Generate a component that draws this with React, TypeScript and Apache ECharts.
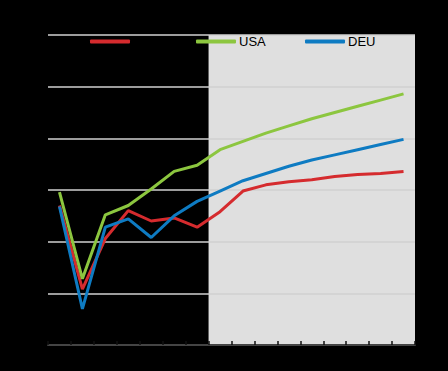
import React, { useEffect, useRef } from "react";
import * as echarts from "echarts";

const years = ["2019","2020","2021","2022","2023","2024","2025","2026","2027","2028","2029","2030","2031","2032","2033","2034"];
const seriesNames = ["FRA", "USA", "DEU"];
const fraValues = [98.5, 90.4, 95.3, 98.0, 97.0, 97.3, 96.4, 97.9, 99.9, 100.5, 100.8, 101.0, 101.3, 101.5, 101.6, 101.8];
const usaValues = [99.8, 91.4, 97.6, 98.5, 100.1, 101.8, 102.4, 103.9, 104.7, 105.5, 106.2, 106.9, 107.5, 108.1, 108.7, 109.3];
const deuValues = [98.4, 88.5, 96.4, 97.2, 95.4, 97.5, 98.9, 99.9, 100.9, 101.6, 102.3, 102.9, 103.4, 103.9, 104.4, 104.9];
const projectionStart = 7; // first projected year index (2026)
const yMin = 85;
const yMax = 115;
const yStep = 5;

const colors = ["#d52b2e", "#8cc63f", "#0e7bc2"];

export default function App() {
  const ref = useRef<HTMLDivElement>(null);
  useEffect(() => {
    if (!ref.current) return;
    const chart = echarts.init(ref.current, null, { renderer: "svg" });
    const values = [fraValues, usaValues, deuValues];
    const legendLeft = [85, 191, 300];
    chart.setOption({
      animation: false,
      backgroundColor: "#000000",
      grid: { left: 48, right: 33, top: 35, bottom: 26, containLabel: false },
      legend: seriesNames.map((n, i) => ({
        data: [n],
        left: legendLeft[i],
        top: 30,
        icon: "roundRect",
        itemWidth: 40,
        itemHeight: 4,
        itemGap: 0,
        textStyle: { color: "#000000", fontSize: 13, fontFamily: "Liberation Sans, Arial, sans-serif", padding: [0, 0, 0, -2] },
        selectedMode: false,
      })),
      xAxis: [
        {
          type: "category",
          data: years,
          boundaryGap: true,
          axisLine: { show: true, lineStyle: { color: "#444444", width: 2 } },
          axisTick: { show: true, inside: true, length: 4, lineStyle: { color: "#111111", width: 1.5 } },
          axisLabel: { color: "#000000", fontSize: 7, interval: 0, margin: 3, formatter: (v: string) => v.slice(2) },
          splitLine: { show: false },
        },
        {
          type: "value",
          min: 0,
          max: years.length,
          show: false,
          splitLine: { show: false },
        },
      ],
      yAxis: {
        type: "value",
        min: yMin,
        max: yMax,
        interval: yStep,
        axisLine: { show: false },
        axisTick: { show: false },
        axisLabel: { color: "#000000", fontSize: 11 },
        splitLine: { show: true, lineStyle: { color: "#d0d0d0", width: 1.5 } },
      },
      series: [
        {
          type: "line",
          name: "projection",
          xAxisIndex: 1,
          data: [[projectionStart, yMin]],
          symbol: "none",
          silent: true,
          z: -1,
          markArea: {
            silent: true,
            z: -1,
            itemStyle: { color: "#dfdfdf" },
            data: [[{ xAxis: projectionStart, yAxis: yMin }, { xAxis: years.length, yAxis: yMax }]],
          },
        },
        ...seriesNames.map((n, i) => ({
          type: "line",
          name: n,
          data: values[i],
          symbol: "none",
          lineStyle: { color: colors[i], width: 3 },
          itemStyle: { color: colors[i] },
          z: 3 + (i === 2 ? 1 : 0),
        })),
      ],
    });
    return () => chart.dispose();
  }, []);
  return <div ref={ref} style={{ position: "fixed", left: 0, top: 0, width: 448, height: 371 }} />;
}
